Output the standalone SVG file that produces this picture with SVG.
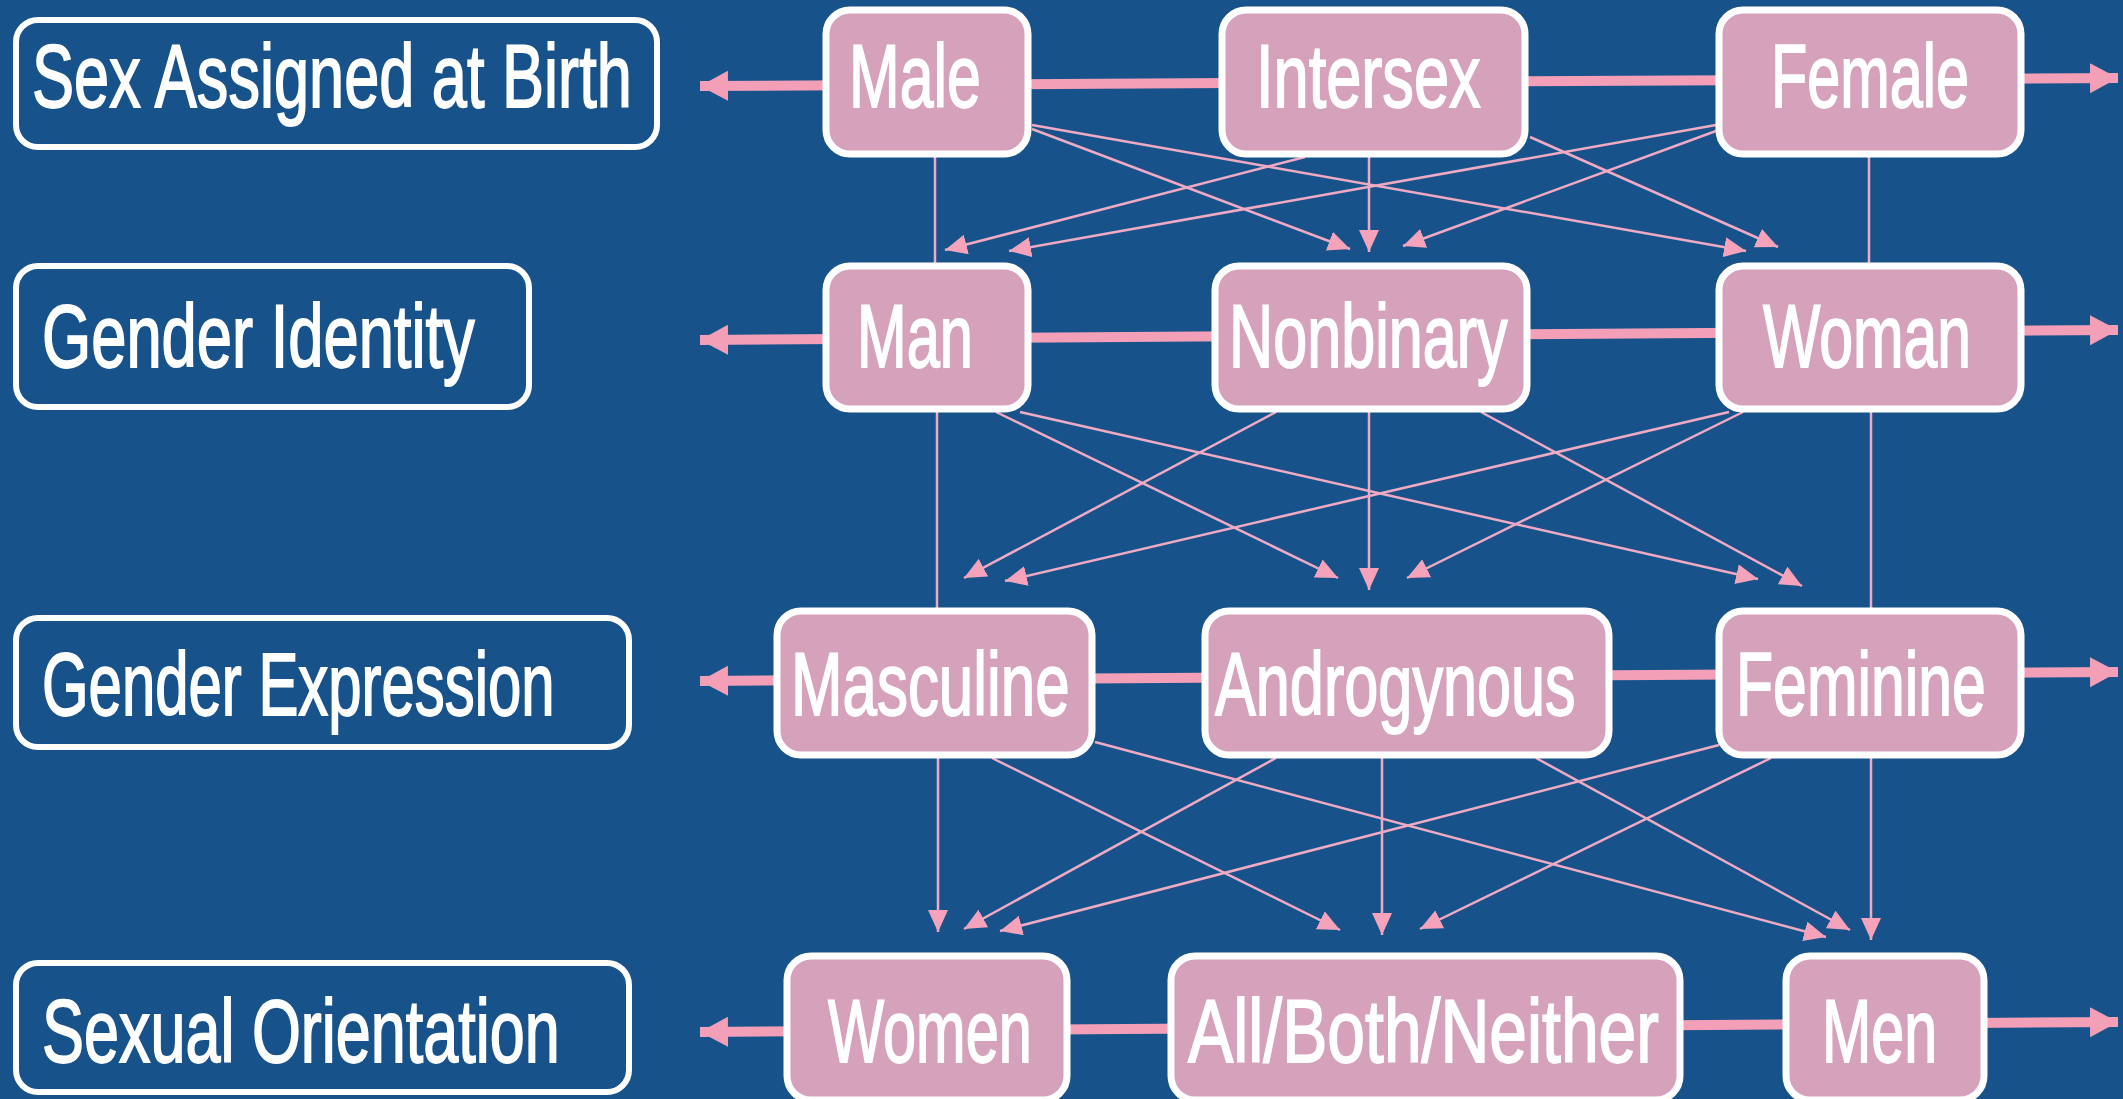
<svg xmlns="http://www.w3.org/2000/svg" width="2123" height="1099" viewBox="0 0 2123 1099">
<defs>
<style>
.bg{fill:#17538a}
.node rect{fill:#d6a2bb;stroke:#ffffff;stroke-width:7}
.label rect{fill:#17538a;stroke:#ffffff;stroke-width:6}
text{font-family:"Liberation Sans",Arial,sans-serif;font-weight:normal;font-size:89px;fill:#ffffff;stroke:#ffffff;stroke-width:1.8}
.thick{stroke:#f39fb7;stroke-width:10;fill:none}
.thin{stroke:#f0aac3;stroke-width:2.5;fill:none}
</style>
<marker id="big" markerUnits="userSpaceOnUse" markerWidth="30" markerHeight="32" refX="28" refY="16" orient="auto-start-reverse" viewBox="0 0 30 32">
<path d="M0,1 L28,16 L0,31 Z" fill="#f39fb7"/>
</marker>
<marker id="small" markerUnits="userSpaceOnUse" markerWidth="23" markerHeight="20" refX="22" refY="10" orient="auto" viewBox="0 0 23 20">
<path d="M0,0 L22,10 L0,20 Z" fill="#f4a3bb"/>
</marker>
</defs>
<rect class="bg" x="0" y="0" width="2123" height="1099"/>

<g id="connectors">
<line class="thick" x1="700" y1="86" x2="2118" y2="78" marker-start="url(#big)" marker-end="url(#big)"/>
<line class="thick" x1="700" y1="340" x2="2118" y2="330" marker-start="url(#big)" marker-end="url(#big)"/>
<line class="thick" x1="700" y1="681" x2="2118" y2="672" marker-start="url(#big)" marker-end="url(#big)"/>
<line class="thick" x1="700" y1="1032" x2="2118" y2="1022" marker-start="url(#big)" marker-end="url(#big)"/>

<line class="thin" x1="935" y1="157" x2="935" y2="263"/>
<line class="thin" x1="1869" y1="157" x2="1869" y2="263"/>
<line class="thin" x1="1032" y1="129" x2="1350" y2="249" marker-end="url(#small)"/>
<line class="thin" x1="1032" y1="125" x2="1746" y2="251" marker-end="url(#small)"/>
<line class="thin" x1="1305" y1="157" x2="945" y2="250" marker-end="url(#small)"/>
<line class="thin" x1="1369" y1="157" x2="1369" y2="252" marker-end="url(#small)"/>
<line class="thin" x1="1530" y1="137" x2="1778" y2="247" marker-end="url(#small)"/>
<line class="thin" x1="1716" y1="125" x2="1009" y2="251" marker-end="url(#small)"/>
<line class="thin" x1="1716" y1="131" x2="1403" y2="246" marker-end="url(#small)"/>

<line class="thin" x1="937" y1="412" x2="937" y2="608"/>
<line class="thin" x1="1871" y1="412" x2="1871" y2="608"/>
<line class="thin" x1="996" y1="412" x2="1338" y2="578" marker-end="url(#small)"/>
<line class="thin" x1="1020" y1="412" x2="1758" y2="579" marker-end="url(#small)"/>
<line class="thin" x1="1276" y1="412" x2="964" y2="578" marker-end="url(#small)"/>
<line class="thin" x1="1369" y1="412" x2="1369" y2="590" marker-end="url(#small)"/>
<line class="thin" x1="1481" y1="412" x2="1802" y2="586" marker-end="url(#small)"/>
<line class="thin" x1="1729" y1="412" x2="1005" y2="581" marker-end="url(#small)"/>
<line class="thin" x1="1743" y1="412" x2="1407" y2="578" marker-end="url(#small)"/>

<line class="thin" x1="938" y1="758" x2="938" y2="932" marker-end="url(#small)"/>
<line class="thin" x1="992" y1="758" x2="1340" y2="930" marker-end="url(#small)"/>
<line class="thin" x1="1095" y1="742" x2="1826" y2="937" marker-end="url(#small)"/>
<line class="thin" x1="1276" y1="758" x2="964" y2="929" marker-end="url(#small)"/>
<line class="thin" x1="1382" y1="758" x2="1382" y2="935" marker-end="url(#small)"/>
<line class="thin" x1="1536" y1="758" x2="1850" y2="930" marker-end="url(#small)"/>
<line class="thin" x1="1719" y1="745" x2="1000" y2="931" marker-end="url(#small)"/>
<line class="thin" x1="1771" y1="758" x2="1420" y2="929" marker-end="url(#small)"/>
<line class="thin" x1="1871" y1="758" x2="1871" y2="940" marker-end="url(#small)"/>
</g>

<g id="label-sex" class="label"><rect x="16" y="20" width="641" height="127" rx="22"/><text transform="translate(32,107) scale(0.72,1)" textLength="833" lengthAdjust="spacingAndGlyphs">Sex Assigned at Birth</text></g>
<g id="label-identity" class="label"><rect x="16" y="266" width="513" height="141" rx="22"/><text transform="translate(42,367) scale(0.72,1)" textLength="601" lengthAdjust="spacingAndGlyphs">Gender Identity</text></g>
<g id="label-expression" class="label"><rect x="16" y="618" width="613" height="129" rx="22"/><text transform="translate(42,715) scale(0.72,1)" textLength="712" lengthAdjust="spacingAndGlyphs">Gender Expression</text></g>
<g id="label-orientation" class="label"><rect x="16" y="963" width="613" height="129" rx="22"/><text transform="translate(42,1062) scale(0.72,1)" textLength="719" lengthAdjust="spacingAndGlyphs">Sexual Orientation</text></g>

<g id="male" class="node"><rect x="826" y="10" width="202" height="144" rx="24"/><text transform="translate(849,107) scale(0.72,1)" textLength="183" lengthAdjust="spacingAndGlyphs">Male</text></g>
<g id="intersex" class="node"><rect x="1222" y="10" width="303" height="144" rx="24"/><text transform="translate(1256,107) scale(0.72,1)" textLength="312" lengthAdjust="spacingAndGlyphs">Intersex</text></g>
<g id="female" class="node"><rect x="1719" y="10" width="302" height="144" rx="24"/><text transform="translate(1771,107) scale(0.72,1)" textLength="275" lengthAdjust="spacingAndGlyphs">Female</text></g>

<g id="man" class="node"><rect x="826" y="266" width="202" height="143" rx="24"/><text transform="translate(857,367) scale(0.72,1)" textLength="161" lengthAdjust="spacingAndGlyphs">Man</text></g>
<g id="nonbinary" class="node"><rect x="1215" y="266" width="312" height="143" rx="24"/><text transform="translate(1229,367) scale(0.72,1)" textLength="387" lengthAdjust="spacingAndGlyphs">Nonbinary</text></g>
<g id="woman" class="node"><rect x="1719" y="266" width="302" height="143" rx="24"/><text transform="translate(1763,367) scale(0.72,1)" textLength="289" lengthAdjust="spacingAndGlyphs">Woman</text></g>

<g id="masculine" class="node"><rect x="777" y="611" width="315" height="144" rx="24"/><text transform="translate(791,715) scale(0.72,1)" textLength="387" lengthAdjust="spacingAndGlyphs">Masculine</text></g>
<g id="androgynous" class="node"><rect x="1205" y="611" width="404" height="144" rx="24"/><text transform="translate(1215,715) scale(0.72,1)" textLength="501" lengthAdjust="spacingAndGlyphs">Androgynous</text></g>
<g id="feminine" class="node"><rect x="1719" y="611" width="302" height="144" rx="24"/><text transform="translate(1736,715) scale(0.72,1)" textLength="347" lengthAdjust="spacingAndGlyphs">Feminine</text></g>

<g id="women" class="node"><rect x="787" y="956" width="280" height="144" rx="24"/><text transform="translate(828,1062) scale(0.72,1)" textLength="283" lengthAdjust="spacingAndGlyphs">Women</text></g>
<g id="all-both-neither" class="node"><rect x="1171" y="956" width="509" height="144" rx="24"/><text transform="translate(1188,1062) scale(0.72,1)" textLength="654" lengthAdjust="spacingAndGlyphs">All/Both/Neither</text></g>
<g id="men" class="node"><rect x="1786" y="956" width="198" height="144" rx="24"/><text transform="translate(1822,1062) scale(0.72,1)" textLength="160" lengthAdjust="spacingAndGlyphs">Men</text></g>
</svg>
